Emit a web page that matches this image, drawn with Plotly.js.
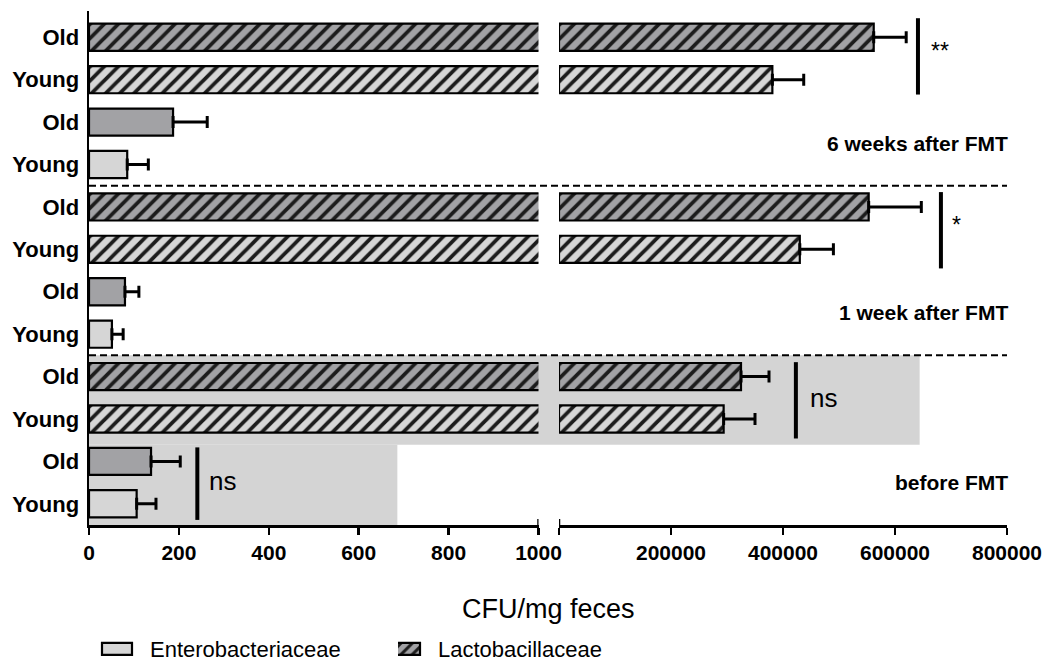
<!DOCTYPE html>
<html><head><meta charset="utf-8">
<script src="https://cdn.plot.ly/plotly-3.0.1.min.js"></script>
<style>html,body{margin:0;padding:0;background:#fff;} #chart{width:1048px;height:661px;}</style>
</head><body><div id="chart"></div>
<script>
// ---- data ----
const groups = ['6 weeks after FMT', '1 week after FMT', 'before FMT'];
const ageLabels = ['Old', 'Young'];
const lactoOld = [562000, 553000, 325000];
const lactoOldErr = [58000, 94000, 50000];
const lactoYoung = [381000, 430000, 294000];
const lactoYoungErr = [56000, 60000, 56000];
const enteroOld = [187, 80, 138];
const enteroOldErr = [76, 31, 65];
const enteroYoung = [85, 51, 106];
const enteroYoungErr = [47, 25, 43];
const leftTicks = [0, 200, 400, 600, 800, 1000];
const rightTicks = [0, 200000, 400000, 600000, 800000];
const seriesNames = ['Enterobacteriaceae', 'Lactobacillaceae'];
const axisTitle = 'CFU/mg feces';

// ---- layout geometry ----
const W = 1048, H = 661, L = 89, R = 41, T = 11, B = 136;
const PW = W - L - R, PH = H - T - B;
const d1 = (538.5 - L) / PW, d2 = (559 - L) / PW;
const py = p => (H - B - p) / PH; // pixel y -> paper y

const rowsLO = groups.map((_, g) => 4 * g);
const rowsLY = groups.map((_, g) => 4 * g + 1);
const rowsEO = groups.map((_, g) => 4 * g + 2);
const rowsEY = groups.map((_, g) => 4 * g + 3);
const allRows = [], allRowText = [];
groups.forEach((_, g) => { for (let k = 0; k < 4; k++) { allRows.push(4 * g + k); allRowText.push(ageLabels[k % 2]); } });

const OLD = '#a2a2a5', YOUNG = '#d6d6d6', INK = '#000';
const hatch = bg => ({shape: '/', fgcolor: '#1c1c1c', bgcolor: bg, size: 10, solidity: 0.38, fillmode: 'replace'});
const outline = {color: INK, width: 2.2};
const err = arr => ({type: 'data', array: arr, arrayminus: arr.map(() => 0), symmetric: false, color: INK, thickness: 3, width: 6});
const BW = 0.64;

const traces = [
  {type: 'bar', orientation: 'h', x: lactoOld, y: rowsLO, xaxis: 'x', yaxis: 'y', width: BW, marker: {color: OLD, pattern: hatch(OLD), line: outline}, showlegend: false, hoverinfo: 'skip'},
  {type: 'bar', orientation: 'h', x: lactoYoung, y: rowsLY, xaxis: 'x', yaxis: 'y', width: BW, marker: {color: YOUNG, pattern: hatch(YOUNG), line: outline}, showlegend: false, hoverinfo: 'skip'},
  {type: 'bar', orientation: 'h', name: seriesNames[1], legend: 'legend2', x: lactoOld, y: rowsLO, xaxis: 'x2', yaxis: 'y', width: BW, marker: {color: OLD, pattern: hatch(OLD), line: outline}, error_x: err(lactoOldErr), showlegend: true},
  {type: 'bar', orientation: 'h', x: lactoYoung, y: rowsLY, xaxis: 'x2', yaxis: 'y', width: BW, marker: {color: YOUNG, pattern: hatch(YOUNG), line: outline}, error_x: err(lactoYoungErr), showlegend: false},
  {type: 'bar', orientation: 'h', x: enteroOld, y: rowsEO, xaxis: 'x', yaxis: 'y', width: BW, marker: {color: OLD, line: outline}, error_x: err(enteroOldErr), showlegend: false},
  {type: 'bar', orientation: 'h', name: seriesNames[0], legend: 'legend', x: enteroYoung, y: rowsEY, xaxis: 'x', yaxis: 'y', width: BW, marker: {color: YOUNG, line: outline}, error_x: err(enteroYoungErr), showlegend: true}
];

const axisCommon = {ticks: 'outside', ticklen: 7, tickwidth: 2.5, tickcolor: INK, showline: true, linewidth: 2.5, linecolor: INK,
  showgrid: false, zeroline: false, tickfont: {size: 21, weight: 'bold', color: INK}, anchor: 'y', fixedrange: true, automargin: false};

const shapes = [
  {type: 'rect', layer: 'below', xref: 'paper', yref: 'y', x0: 0, x1: d2 + (644000 / 800000) * (1 - d2), y0: 7.5, y1: 9.61, fillcolor: '#d4d4d4', line: {width: 0}},
  {type: 'rect', layer: 'below', xref: 'x', yref: 'y', x0: 0, x1: 686, y0: 9.61, y1: 11.5, fillcolor: '#d4d4d4', line: {width: 0}},
  {type: 'line', xref: 'paper', yref: 'y', x0: 0, x1: 1, y0: 3.5, y1: 3.5, line: {color: INK, width: 2, dash: '7px,4px'}},
  {type: 'line', xref: 'paper', yref: 'y', x0: 0, x1: 1, y0: 7.5, y1: 7.5, line: {color: INK, width: 2, dash: '7px,4px'}},
  {type: 'line', xref: 'x2', yref: 'y', x0: 641000, x1: 641000, y0: -0.45, y1: 1.35, line: {color: INK, width: 4}},
  {type: 'line', xref: 'x2', yref: 'y', x0: 682000, x1: 682000, y0: 3.65, y1: 5.45, line: {color: INK, width: 4}},
  {type: 'line', xref: 'x2', yref: 'y', x0: 423000, x1: 423000, y0: 7.66, y1: 9.46, line: {color: INK, width: 4}},
  {type: 'line', xref: 'x', yref: 'y', x0: 241, x1: 241, y0: 9.67, y1: 11.38, line: {color: INK, width: 4}},
  {type: 'line', xref: 'x', yref: 'paper', ysizemode: 'pixel', yanchor: 0, x0: 1000, x1: 1000, y0: 0, y1: 6, line: {color: INK, width: 2.5}},
  {type: 'line', xref: 'x2', yref: 'paper', ysizemode: 'pixel', yanchor: 0, x0: 0, x1: 0, y0: 0, y1: 6, line: {color: INK, width: 2.5}}
];

const annotations = [];
groups.forEach((g, i) => annotations.push({xref: 'paper', yref: 'y', x: 1, y: 4 * i + 2.5, xanchor: 'right', yanchor: 'middle', xshift: 3, showarrow: false, text: g, font: {size: 21, weight: 'bold', color: INK}}));
annotations.push({xref: 'x2', yref: 'y', x: 660000, y: 0.33, xanchor: 'left', yanchor: 'middle', showarrow: false, text: '**', font: {size: 23, color: INK}});
annotations.push({xref: 'x2', yref: 'y', x: 698000, y: 4.42, xanchor: 'left', yanchor: 'middle', showarrow: false, text: '*', font: {size: 23, color: INK}});
annotations.push({xref: 'x2', yref: 'y', x: 444000, y: 8.5, xanchor: 'left', yanchor: 'middle', showarrow: false, text: 'ns', font: {size: 26, color: INK}});
annotations.push({xref: 'x', yref: 'y', x: 262, y: 10.47, xanchor: 'left', yanchor: 'middle', showarrow: false, text: 'ns', font: {size: 26, color: INK}});
annotations.push({xref: 'paper', yref: 'paper', x: 0.5, y: py(609), xanchor: 'center', yanchor: 'middle', showarrow: false, text: axisTitle, font: {size: 27, color: INK}});

const legendCommon = {orientation: 'h', xref: 'container', yref: 'container', xanchor: 'left', yanchor: 'middle', y: (H - 649) / H,
  bgcolor: 'rgba(0,0,0,0)', borderwidth: 0, font: {size: 22, color: INK}};

const layout = {
  width: W, height: H, margin: {l: L, r: R, t: T, b: B, pad: 0, autoexpand: false},
  paper_bgcolor: '#fff', plot_bgcolor: 'rgba(0,0,0,0)',
  barmode: 'overlay', showlegend: true,
  font: {family: 'Liberation Sans, Arial, sans-serif', color: INK},
  xaxis: Object.assign({}, axisCommon, {domain: [0, d1], range: [0, 1000], tickvals: leftTicks, ticktext: leftTicks.map(String)}),
  xaxis2: Object.assign({}, axisCommon, {domain: [d2, 1], range: [0, 800000], tickvals: rightTicks, ticktext: rightTicks.map(v => v ? String(v) : '')}),
  yaxis: {range: [11.5, -0.62], tickvals: allRows, ticktext: allRowText, ticks: 'outside', ticklen: 3, tickcolor: 'rgba(0,0,0,0)',
    showline: true, linewidth: 2.5, linecolor: INK, showgrid: false, zeroline: false, anchor: 'x', fixedrange: true, automargin: false,
    tickfont: {size: 22, weight: 'bold', color: INK}},
  legend: Object.assign({}, legendCommon, {x: 110 / W}),
  legend2: Object.assign({}, legendCommon, {x: 398 / W}),
  shapes: shapes, annotations: annotations
};

Plotly.newPlot('chart', traces, layout, {displayModeBar: false, staticPlot: true}).then(gd => {
  gd.querySelectorAll('.legend .scrollbox').forEach(s => s.removeAttribute('clip-path'));
  gd.querySelectorAll('.legendpoints path').forEach(p => p.setAttribute('d', 'M2,6H-28V-6H2Z'));
});
</script>
</body></html>
